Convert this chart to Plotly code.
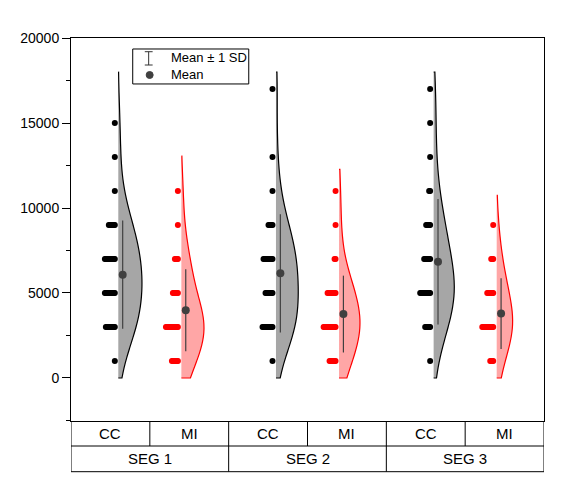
# -*- coding: utf-8 -*-

import numpy
import plotly.graph_objs as go

segments = [u"SEG 1", u"SEG 2", u"SEG 3"]
groups = [u"CC", u"MI"]

# the y values the observations sit on
levels = [1000, 3000, 5000, 7000, 9000, 11000, 13000, 15000, 17000]

# how many observations at each level, one row per segment
cc_counts = [
	[1, 10, 11, 11, 7, 1, 1, 1, 0],
	[1, 11, 8, 10, 5, 1, 1, 0, 1],
	[1, 6, 11, 7, 5, 2, 1, 1, 1],
]
mi_counts = [
	[7, 13, 6, 4, 1, 1, 0, 0, 0],
	[7, 13, 9, 2, 1, 1, 0, 0, 0],
	[4, 12, 7, 3, 1, 0, 0, 0, 0],
]

# mean and 1 SD as drawn
cc_means = [6080, 6155, 6840]
cc_sds = [3180, 3480, 3690]
mi_means = [3990, 3760, 3790]
mi_sds = [2410, 2260, 2080]

# upper end of each density curve
cc_tops = [18000, 18000, 18000]
mi_tops = [13050, 12270, 10740]

y_ticks = [0, 5000, 10000, 15000, 20000]

font = u"Arial, Liberation Sans, sans-serif"
px_x = 6.0 / 475		# one pixel in x data units
row1 = -25.0 / 383		# table rows, paper units
row2 = -50.7 / 383

styles = {
	u"CC": {u"line": u"#000000", u"fill": u"#a6a6a6", u"dots": u"#000000", u"bw": 1800, u"half": [0.30, 0.282, 0.262]},
	u"MI": {u"line": u"#ff0000", u"fill": u"#ffa6a6", u"dots": u"#ff0000", u"bw": 1500, u"half": [0.287, 0.265, 0.202]},
}

fig = go.Figure()


def add_group(name, pos, counts, mean, sd, top, half):
	style = styles[name]
	values = numpy.repeat(levels, counts)
	
	fig.add_trace(
		go.Violin(
			x=[pos] * len(values),
			y=values,
			side=u"positive",
			points=False,
			spanmode=u"manual",
			span=[0, top],
			bandwidth=style[u"bw"],
			width=2 * half,
			scalemode=u"width",
			line={u"color": style[u"line"], u"width": 1.2},
			fillcolor=style[u"fill"],
			opacity=1,
			hoverinfo=u"skip",
			showlegend=False
		)
	)
	
	# stacked dots to the left of the curve
	xs = []
	ys = []
	for level, count in zip(levels, counts):
		for k in range(count):
			xs.append(pos - 3.5 * px_x - k * px_x)
			ys.append(level)
	fig.add_trace(
		go.Scatter(
			x=xs,
			y=ys,
			mode=u"markers",
			marker={u"symbol": u"circle", u"size": 6, u"color": style[u"dots"]},
			hoverinfo=u"skip",
			showlegend=False
		)
	)
	
	fig.add_trace(
		go.Scatter(
			x=[pos + 4.4 * px_x],
			y=[mean],
			mode=u"markers",
			marker={u"size": 8, u"color": u"#404040"},
			error_y={u"type": u"data", u"array": [sd], u"width": 0, u"thickness": 1.2, u"color": u"#404040"},
			showlegend=False
		)
	)


for i, segment in enumerate(segments):
	add_group(u"CC", 2 * i + 0.6, cc_counts[i], cc_means[i], cc_sds[i], cc_tops[i], styles[u"CC"][u"half"][i])
	add_group(u"MI", 2 * i + 1.4, mi_counts[i], mi_means[i], mi_sds[i], mi_tops[i], styles[u"MI"][u"half"][i])

# table under the plot
line = {u"color": u"black", u"width": 1}
cell_font = {u"family": font, u"size": 15, u"color": u"black"}
shapes = [
	{u"type": u"line", u"xref": u"paper", u"yref": u"paper", u"x0": 0, u"x1": 1, u"y0": row1, u"y1": row1, u"line": line},
	{u"type": u"line", u"xref": u"paper", u"yref": u"paper", u"x0": 0, u"x1": 1, u"y0": row2, u"y1": row2, u"line": line},
]
for i in range(len(segments) + 1):
	shapes.append({u"type": u"line", u"xref": u"x", u"yref": u"paper", u"x0": 2 * i, u"x1": 2 * i, u"y0": 0, u"y1": row2, u"line": line})
annotations = []
for i, segment in enumerate(segments):
	shapes.append({u"type": u"line", u"xref": u"x", u"yref": u"paper", u"x0": 2 * i + 1, u"x1": 2 * i + 1, u"y0": 0, u"y1": row1, u"line": line})
	for j, group in enumerate(groups):
		annotations.append({
			u"x": 2 * i + j + 0.5, u"y": row1 / 2, u"xref": u"x", u"yref": u"paper",
			u"xanchor": u"center", u"yanchor": u"middle",
			u"text": group, u"showarrow": False, u"font": cell_font
		})
	annotations.append({
		u"x": 2 * i + 1, u"y": (row1 + row2) / 2, u"xref": u"x", u"yref": u"paper",
		u"xanchor": u"center", u"yanchor": u"middle",
		u"text": segment, u"showarrow": False, u"font": cell_font
	})

# legend box
mark = {u"color": u"#333333", u"width": 1}
shapes += [
	{u"type": u"rect", u"xref": u"paper", u"yref": u"paper", u"x0": 0.1305, u"x1": 0.3758, u"y0": 0.880, u"y1": 0.9713, u"line": line},
	{u"type": u"line", u"xref": u"paper", u"yref": u"paper", u"x0": 0.1642, u"x1": 0.1642, u"y0": 0.9295, u"y1": 0.9642, u"line": mark},
	{u"type": u"line", u"xref": u"paper", u"yref": u"paper", u"x0": 0.156, u"x1": 0.1726, u"y0": 0.9295, u"y1": 0.9295, u"line": mark},
	{u"type": u"line", u"xref": u"paper", u"yref": u"paper", u"x0": 0.156, u"x1": 0.1726, u"y0": 0.9642, u"y1": 0.9642, u"line": mark},
	{u"type": u"circle", u"xref": u"paper", u"yref": u"paper", u"x0": 0.1589, u"x1": 0.1737, u"y0": 0.8943, u"y1": 0.9125, u"fillcolor": u"#404040", u"line": {u"color": u"#404040", u"width": 1}},
]
annotations += [
	{u"x": 0.2063, u"y": 0.9478, u"xref": u"paper", u"yref": u"paper", u"xanchor": u"left", u"yanchor": u"middle",
	 u"text": u"Mean ± 1 SD", u"showarrow": False, u"font": {u"family": font, u"size": 13, u"color": u"black"}},
	{u"x": 0.2063, u"y": 0.906, u"xref": u"paper", u"yref": u"paper", u"xanchor": u"left", u"yanchor": u"middle",
	 u"text": u"Mean", u"showarrow": False, u"font": {u"family": font, u"size": 13, u"color": u"black"}},
]

# the page adds an 8px body margin, so the figure is 8px smaller
fig.update_layout(
	width=560,
	height=476,
	margin={u"l": 61, u"r": 24, u"t": 30, u"b": 63},
	plot_bgcolor=u"white",
	paper_bgcolor=u"white",
	font={u"family": font, u"size": 13, u"color": u"black"},
	xaxis={
		u"range": [0, 6], u"showticklabels": False, u"ticks": u"", u"showgrid": False, u"zeroline": False,
		u"showline": True, u"linecolor": u"black", u"linewidth": 1, u"mirror": True
	},
	yaxis={
		u"range": [-2530, 20000], u"tickvals": y_ticks, u"tickformat": u"d", u"ticks": u"outside", u"ticklen": 8,
		u"tickcolor": u"black", u"showgrid": False, u"zeroline": False, u"showline": True, u"linecolor": u"black",
		u"linewidth": 1, u"mirror": True, u"tickfont": {u"family": font, u"size": 14, u"color": u"black"},
		u"minor": {u"dtick": 2500, u"tick0": 0, u"ticks": u"outside", u"ticklen": 4, u"tickcolor": u"black"}
	},
	shapes=shapes,
	annotations=annotations,
	showlegend=False
)

fig.write_html(u"out.html")
